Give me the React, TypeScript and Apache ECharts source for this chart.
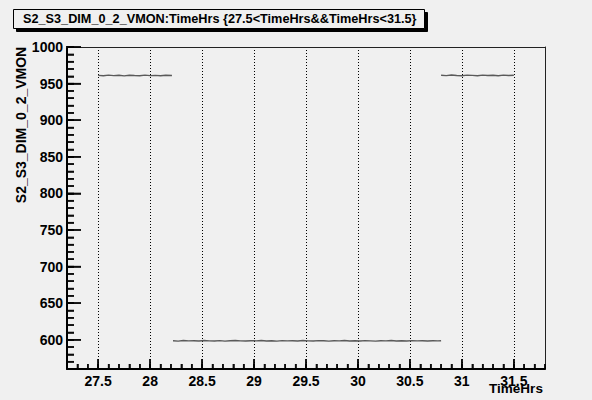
import React, { useEffect, useRef } from 'react';
import * as echarts from 'echarts';

// ---- data ----
const seg1Time = [27.50, 27.55, 27.60, 27.65, 27.70, 27.75, 27.80, 27.85, 27.90, 27.95, 28.00, 28.05, 28.10, 28.15, 28.21];
const seg1Volt = [961.2, 960.7, 961.5, 960.9, 961.3, 960.6, 961.4, 961.0, 960.8, 961.6, 960.9, 961.2, 960.7, 961.3, 961.0];

const seg2Time = [
  28.22, 28.27, 28.32, 28.37, 28.42, 28.47, 28.52, 28.57, 28.62, 28.67,
  28.72, 28.77, 28.82, 28.87, 28.92, 28.97, 29.02, 29.07, 29.12, 29.17,
  29.22, 29.27, 29.32, 29.37, 29.42, 29.47, 29.52, 29.57, 29.62, 29.67,
  29.72, 29.77, 29.82, 29.87, 29.92, 29.97, 30.02, 30.07, 30.12, 30.17,
  30.22, 30.27, 30.32, 30.37, 30.42, 30.47, 30.52, 30.57, 30.62, 30.67,
  30.72, 30.77, 30.80,
];
const seg2Volt = [
  598.6, 598.1, 598.9, 598.4, 598.7, 598.2, 599.0, 598.5, 598.3, 598.8,
  598.1, 598.6, 598.9, 598.4, 598.2, 598.7, 598.5, 599.0, 598.3, 598.6,
  598.1, 598.8, 598.4, 598.7, 598.2, 598.9, 598.5, 598.3, 598.8, 598.6,
  598.1, 598.7, 598.4, 598.9, 598.3, 598.6, 598.2, 598.8, 598.5, 598.1,
  598.7, 598.4, 598.9, 598.3, 598.6, 598.2, 598.8, 598.5, 598.7, 598.3,
  598.6, 598.4, 598.7,
];

const seg3Time = [30.80, 30.85, 30.90, 30.95, 31.00, 31.05, 31.10, 31.15, 31.20, 31.25, 31.30, 31.35, 31.40, 31.45, 31.50];
const seg3Volt = [961.4, 960.9, 961.7, 961.1, 960.8, 961.5, 961.2, 960.7, 961.6, 961.0, 961.3, 960.8, 961.5, 961.1, 961.4];

// axis ranges and ticks
const X_MIN = 27.2;
const X_MAX = 31.8;
const X_MINOR_STEP = 0.1;
const X_MAJOR_STEP = 0.5;
const Y_MIN = 560;
const Y_MAX = 1000;
const Y_MINOR_STEP = 10;
const Y_MAJOR_STEP = 50;
const xMajorTicks = [27.5, 28, 28.5, 29, 29.5, 30, 30.5, 31, 31.5];
const yMajorTicks = [600, 650, 700, 750, 800, 850, 900, 950, 1000];

const titleText = 'S2_S3_DIM_0_2_VMON:TimeHrs {27.5<TimeHrs&&TimeHrs<31.5}';
const yTitle = 'S2_S3_DIM_0_2_VMON';
const xTitle = 'TimeHrs';

const FONT = 'Liberation Sans, Arial, Helvetica, sans-serif';
const BG = '#f0f0f0';

const pairs = (t: number[], v: number[]) => t.map((x, i) => [x, v[i]]);

export default function App() {
  const ref = useRef<HTMLDivElement>(null);

  useEffect(() => {
    if (!ref.current) return;
    const chart = echarts.init(ref.current, undefined, { renderer: 'svg' });

    // frame geometry (pixels)
    const L = 67, T = 47, W = 478, H = 322;
    const pxPerX = W / (X_MAX - X_MIN);
    const pxPerY = H / (Y_MAX - Y_MIN);
    const xMajMin = xMajorTicks[0], xMajMax = xMajorTicks[xMajorTicks.length - 1];
    const yMajMin = yMajorTicks[0], yMajMax = yMajorTicks[yMajorTicks.length - 1];
    const gxLeft = L + (xMajMin - X_MIN) * pxPerX;
    const gxWidth = (xMajMax - xMajMin) * pxPerX;
    const gyTop = T + (Y_MAX - yMajMax) * pxPerY;
    const gyHeight = (yMajMax - yMajMin) * pxPerY;

    // minor tick positions (as the axis places them)
    const xMinor: number[] = [];
    for (let i = 0; X_MIN + i * X_MINOR_STEP <= X_MAX + 1e-9; i++) xMinor.push(+(X_MIN + i * X_MINOR_STEP).toFixed(3));
    const yMinor: number[] = [];
    for (let i = 0; Y_MIN + i * Y_MINOR_STEP <= Y_MAX + 1e-9; i++) yMinor.push(Y_MIN + i * Y_MINOR_STEP);

    const tickSeries = (data: number[][], size: number[], offset: number[]) => ({
      type: 'scatter', xAxisIndex: 0, yAxisIndex: 0, data, clip: false, silent: true,
      symbol: 'rect', symbolSize: size, symbolOffset: offset,
      itemStyle: { color: '#000' }, emphasis: { disabled: true }, z: 6,
    });

    const dataLine = () => ({ color: '#5a5a5a', width: 1.4 });

    chart.setOption({
      animation: false,
      backgroundColor: BG,
      title: {
        text: titleText, left: 13, top: 9, padding: [3, 8, 3, 10],
        backgroundColor: BG, borderColor: '#000', borderWidth: 1,
        shadowColor: '#000', shadowBlur: 0, shadowOffsetX: 3, shadowOffsetY: 3,
        textStyle: { fontFamily: FONT, fontWeight: 'bold', fontSize: 12.7, color: '#000', lineHeight: 14 },
      },
      grid: [
        { left: L, top: T, width: W, height: H },                 // 0 data, minor ticks, axis lines
        { left: gxLeft, top: T, width: gxWidth, height: H },      // 1 major x ticks, labels, grid lines
        { left: L, top: gyTop, width: W, height: gyHeight },      // 2 major y ticks, labels
        { left: L, top: T, width: W, height: 156 },               // 3 y title
        { left: 489, top: T, width: 54, height: H },              // 4 x title
        { left: L, top: T, width: W, height: H },                 // 5 top / right frame
      ],
      xAxis: [
        {
          gridIndex: 0, type: 'value', min: X_MIN, max: X_MAX, interval: X_MINOR_STEP,
          axisLine: { show: true, lineStyle: { color: '#000', width: 2 } },
          axisTick: { show: true, inside: true, length: 5, lineStyle: { color: '#000', width: 1.5 } },
          axisLabel: { show: false }, splitLine: { show: false },
        },
        {
          gridIndex: 1, type: 'value', min: xMajMin, max: xMajMax, interval: X_MAJOR_STEP,
          axisLine: { show: true, lineStyle: { color: '#000', width: 2 } },
          axisTick: { show: true, inside: true, length: 10, lineStyle: { color: '#000', width: 1.5 } },
          axisLabel: {
            show: true, margin: 5, fontFamily: FONT, fontWeight: 'bold', fontSize: 14, color: '#000',
            showMinLabel: true, showMaxLabel: true, formatter: (v: number) => String(v),
          },
          splitLine: { show: true, lineStyle: { color: '#000', width: 1, type: [1, 2] } },
        },
        { gridIndex: 2, type: 'value', min: X_MIN, max: X_MAX, show: false },
        { gridIndex: 3, type: 'value', min: X_MIN, max: X_MAX, show: false },
        {
          gridIndex: 4, type: 'value', min: 0, max: 1, show: true,
          axisLine: { show: false }, axisTick: { show: false }, axisLabel: { show: false }, splitLine: { show: false },
          name: xTitle, nameLocation: 'middle', nameGap: 24,
          nameTextStyle: { fontFamily: FONT, fontWeight: 'bold', fontSize: 13.5, color: '#000' },
        },
        {
          gridIndex: 5, type: 'value', min: X_MIN, max: X_MAX, position: 'top',
          axisLine: { show: true, lineStyle: { color: '#222', width: 1 } },
          axisTick: { show: false }, axisLabel: { show: false }, splitLine: { show: false },
        },
      ],
      yAxis: [
        {
          gridIndex: 0, type: 'value', min: Y_MIN, max: Y_MAX, interval: Y_MINOR_STEP,
          axisLine: { show: true, lineStyle: { color: '#000', width: 2 } },
          axisTick: { show: true, inside: true, length: 7, lineStyle: { color: '#000', width: 1.5 } },
          axisLabel: { show: false }, splitLine: { show: false },
        },
        { gridIndex: 1, type: 'value', min: Y_MIN, max: Y_MAX, show: false },
        {
          gridIndex: 2, type: 'value', min: yMajMin, max: yMajMax, interval: Y_MAJOR_STEP,
          axisLine: { show: true, lineStyle: { color: '#000', width: 2 } },
          axisTick: { show: true, inside: true, length: 14, lineStyle: { color: '#000', width: 1.5 } },
          axisLabel: {
            show: true, margin: 4, fontFamily: FONT, fontWeight: 'bold', fontSize: 14, color: '#000',
            showMinLabel: true, showMaxLabel: true, formatter: (v: number) => String(v),
          },
          splitLine: { show: false },
        },
        {
          gridIndex: 3, type: 'value', min: 0, max: 1, show: true,
          axisLine: { show: false }, axisTick: { show: false }, axisLabel: { show: false }, splitLine: { show: false },
          name: yTitle, nameLocation: 'middle', nameGap: 39, nameRotate: 90,
          nameTextStyle: { fontFamily: FONT, fontWeight: 'bold', fontSize: 14, color: '#000' },
        },
        { gridIndex: 4, type: 'value', min: 0, max: 1, show: false },
        {
          gridIndex: 5, type: 'value', min: Y_MIN, max: Y_MAX, position: 'right',
          axisLine: { show: true, lineStyle: { color: '#222', width: 1 } },
          axisTick: { show: false }, axisLabel: { show: false }, splitLine: { show: false },
        },
      ],
      series: [
        {
          type: 'line', xAxisIndex: 0, yAxisIndex: 0, data: pairs(seg1Time, seg1Volt),
          showSymbol: false, symbol: 'none', lineStyle: dataLine(), silent: true,
        },
        {
          type: 'line', xAxisIndex: 0, yAxisIndex: 0, data: pairs(seg2Time, seg2Volt),
          showSymbol: false, symbol: 'none', lineStyle: dataLine(), silent: true,
        },
        {
          type: 'line', xAxisIndex: 0, yAxisIndex: 0, data: pairs(seg3Time, seg3Volt),
          showSymbol: false, symbol: 'none', lineStyle: dataLine(), silent: true,
        },
        tickSeries(xMinor.map((x) => [x, Y_MIN]), [1.5, 5], [0, -2.5]),
        tickSeries(xMajorTicks.map((x) => [x, Y_MIN]), [1.5, 10], [0, -5]),
        tickSeries(yMinor.map((y) => [X_MIN, y]), [7, 1.5], [3.5, 0]),
        tickSeries(yMajorTicks.map((y) => [X_MIN, y]), [14, 1.5], [7, 0]),
      ],
    });

    return () => chart.dispose();
  }, []);

  return (
    <div
      ref={ref}
      style={{ position: 'fixed', left: 0, top: 0, width: 592, height: 400 }}
    />
  );
}
